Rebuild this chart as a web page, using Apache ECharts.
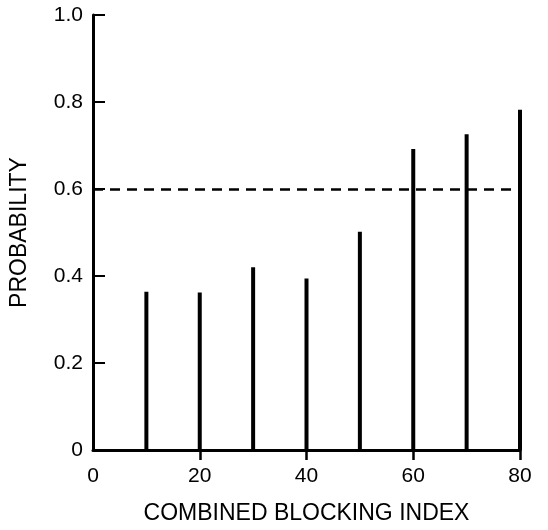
<!DOCTYPE html>
<html>
<head>
<meta charset="utf-8">
<script src="https://cdn.jsdelivr.net/npm/echarts@6/dist/echarts.min.js"></script>
<style>
  html, body { margin: 0; padding: 0; background: #fff; }
  #chart { width: 548px; height: 530px; }
</style>
</head>
<body>
<div id="chart"></div>
<script>
// Blocking index categories and the probability at each
const blockingIndex = [10, 20, 30, 40, 50, 60, 70, 80];
const probability = [0.364, 0.362, 0.42, 0.394, 0.502, 0.692, 0.726, 0.782];
const threshold = 0.6;
const xTickLabels = [0, 20, 40, 60, 80];
const xTickMarks = [20, 40, 60, 80];
const yTickLabels = [0, 0.2, 0.4, 0.6, 0.8, 1.0];
const yTickMarks = [0.2, 0.4, 0.6, 0.8, 1.0];

const font = '"Liberation Sans", Arial, Helvetica, sans-serif';
const ink = '#000';

const chart = echarts.init(document.getElementById('chart'), null, { renderer: 'canvas' });

chart.setOption({
  animation: false,
  backgroundColor: '#fff',
  grid: { left: 93, right: 28, top: 15, bottom: 75, containLabel: false },
  xAxis: {
    type: 'value',
    min: 0, max: 80, interval: 20,
    name: 'COMBINED BLOCKING INDEX',
    nameLocation: 'middle',
    nameGap: 52,
    nameTextStyle: { color: ink, fontFamily: font, fontSize: 23 },
    axisLine: { show: true, lineStyle: { color: ink, width: 3 } },
    axisTick: { show: true, inside: false, length: 10, customValues: xTickMarks, lineStyle: { color: ink, width: 2.5 } },
    axisLabel: { color: ink, fontFamily: font, fontSize: 21, margin: 16, customValues: xTickLabels },
    splitLine: { show: false }
  },
  yAxis: {
    type: 'value',
    min: 0, max: 1, interval: 0.2,
    name: 'PROBABILITY',
    nameLocation: 'middle',
    nameGap: 62,
    nameRotate: 90,
    nameTextStyle: { color: ink, fontFamily: font, fontSize: 23 },
    axisLine: { show: true, lineStyle: { color: ink, width: 3 } },
    axisTick: { show: true, inside: true, length: 12, customValues: yTickMarks, lineStyle: { color: ink, width: 2 } },
    axisLabel: {
      color: ink, fontFamily: font, fontSize: 21, margin: 10,
      customValues: yTickLabels,
      formatter: v => (v === 0 ? '0' : v.toFixed(1))
    },
    splitLine: { show: false }
  },
  series: [{
    type: 'bar',
    barWidth: 4,
    itemStyle: { color: ink },
    data: blockingIndex.map((x, i) => [x, probability[i]]),
    markLine: {
      silent: true,
      symbol: 'none',
      label: { show: false },
      lineStyle: { color: ink, width: 2.5, type: [10, 7] },
      data: [{ yAxis: threshold }]
    }
  }]
});
</script>
</body>
</html>
